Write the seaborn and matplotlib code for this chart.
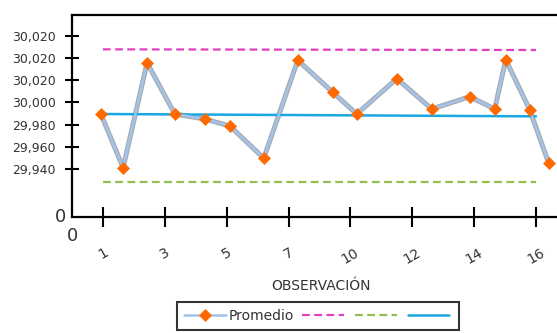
import matplotlib
matplotlib.use("Agg")
import matplotlib.pyplot as plt
import seaborn as sns
import numpy as np
import pandas as pd

# ---- data ----
obs_x = [0.93, 1.70, 2.53, 3.49, 4.53, 5.40, 6.57, 7.75, 8.96, 9.79,
         11.18, 12.39, 13.70, 14.57, 14.95, 15.78, 16.44]
promedio = [29.9896, 29.9414, 30.0356, 29.9896, 29.9851, 29.9788, 29.9499,
            30.0378, 30.0091, 29.9896, 30.0213, 29.9941, 30.0051, 29.9941,
            30.0383, 29.9935, 29.9454]
limit_x = [1.0, 16.0]
lsc = [30.0476, 30.0470]
lic = [29.9283, 29.9283]
media = [29.9896, 29.9875]
y_ticks = [29.94, 29.96, 29.98, 30.00, 30.02, 30.04, 30.06]
y_ticklabels = ["29,940", "29,960", "29,980", "30,000", "30,020", "30,020", "30,020"]
x_ticks = list(np.linspace(1, 16, 8))
x_ticklabels = ["1", "3", "5", "7", "10", "12", "14", "16"]

sns.set_style("white")
plt.rcParams["font.family"] = ["DejaVu Sans"]

fig = plt.figure(figsize=(5.57, 3.33), dpi=100)
W, H = 557, 333
ax = fig.add_axes([72 / W, 1 - 216.7 / H, (560 - 72) / W, (216.7 - 15) / H])

df = pd.DataFrame({"x": obs_x, "y": promedio})
# grey outline under the light-blue series line
sns.lineplot(data=df, x="x", y="y", sort=False, ax=ax, color="#a9abb3",
             linewidth=3.6, legend=False, label="_outline")
l_sup = sns.lineplot(x=limit_x, y=lsc, ax=ax, color="#e040c0", linewidth=1.6,
                     linestyle=(0, (3.5, 2)), label="lsc").lines[-1]
l_inf = sns.lineplot(x=limit_x, y=lic, ax=ax, color="#92c050", linewidth=1.6,
                     linestyle=(0, (3.5, 2)), label="lic").lines[-1]
l_med = sns.lineplot(x=limit_x, y=media, ax=ax, color="#1aa8e0", linewidth=1.8,
                     label="media").lines[-1]
l_prom = sns.lineplot(data=df, x="x", y="y", sort=False, ax=ax, color="#a3c4ea",
                      linewidth=1.8, marker="D", markersize=6.5, markerfacecolor="#ff6a00",
                      markeredgecolor="#ff6a00", markeredgewidth=0.5,
                      label="Promedio").lines[-1]

ax.set_xlim(-0.07, 16.83)
ax.set_ylim(29.8975, 30.0784)
ax.set_yticks(y_ticks)
ax.set_yticklabels(y_ticklabels)
ax.set_xticks(x_ticks)
ax.set_xticklabels(x_ticklabels, rotation=30, ha="center")

for s in ["left", "top", "bottom"]:
    ax.spines[s].set_visible(True)
    ax.spines[s].set_color("black")
    ax.spines[s].set_linewidth(1.6)
ax.spines["right"].set_visible(False)

ax.tick_params(axis="y", direction="inout", length=9.4, width=1.5, pad=7,
               labelsize=9, colors="black", left=True)
ax.tick_params(axis="x", direction="inout", length=15, width=1.5, pad=13,
               labelsize=10, colors="black", bottom=True)
for t in ax.get_yticklabels() + ax.get_xticklabels():
    t.set_color("#333333")

ax.set_xlabel("OBSERVACIÓN", fontsize=10, color="#333333")
ax.xaxis.set_label_coords(0.51, -0.31)
ax.set_ylabel("")

ax.text(-0.012, 0.0, "0", transform=ax.transAxes, fontsize=13, color="#333333",
        ha="right", va="center")
ax.text(0.0, -0.095, "0", transform=ax.transAxes, fontsize=13, color="#333333",
        ha="center", va="center")

if ax.legend_ is not None:
    ax.legend_.remove()
leg = fig.legend([l_prom, l_sup, l_inf, l_med], ["Promedio", "", "", ""], ncol=4,
                 loc="upper left",
                 bbox_to_anchor=(177 / W, 1 - 302 / H), bbox_transform=fig.transFigure,
                 frameon=True, fancybox=False, borderaxespad=0, fontsize=10,
                 handlelength=3.0, columnspacing=0.6, handletextpad=0.2,
                 borderpad=0.5)
leg.get_frame().set_edgecolor("black")
leg.get_frame().set_linewidth(1.5)
for t in leg.get_texts():
    t.set_color("#333333")

fig.savefig("out.png", dpi=100)
